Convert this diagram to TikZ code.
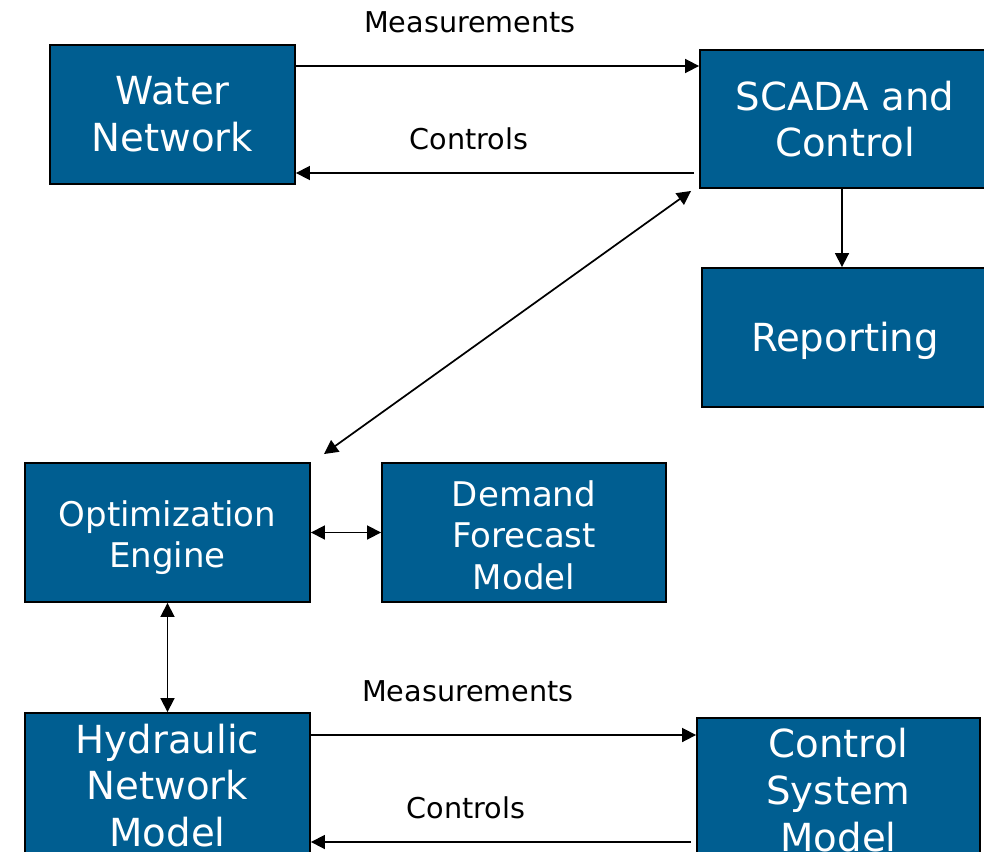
\documentclass[tikz,border=0pt]{standalone}
\usepackage{fontspec}
\setmainfont{DejaVu Sans}
\usetikzlibrary{arrows.meta,calc}
\definecolor{boxblue}{RGB}{0,94,145}
\begin{document}
\begin{tikzpicture}[x=0.75pt,y=-0.75pt,
  box/.style={draw=black,line width=1.4pt,fill=boxblue,text=white,align=center,inner sep=0pt},
  big/.style={font=\fontsize{29}{35}\selectfont},
  mid/.style={font=\fontsize{25.5}{31}\selectfont},
  lbl/.style={font=\fontsize{21.5}{26}\selectfont,text=black,inner sep=0pt},
  tip/.tip={Triangle[length=10.5pt,width=10.5pt]},
  arr/.style={line width=1.3pt,-tip},
  darr/.style={line width=1.3pt,tip-tip}]
\useasboundingbox (0,0) rectangle (984,852);
\clip (0,0) rectangle (984,852);
\fill[white] (0,0) rectangle (984,852);
\node[box,big,minimum width=183.75pt,minimum height=104.25pt] (water) at (172.5,114.5) {Water\\Network};
\node[box,big,minimum width=217.5pt,minimum height=103.5pt] (scada) at (845,119) {SCADA and\\Control};
\node[box,big,minimum width=214.5pt,minimum height=104.25pt] (report) at (845,337.5) {\rule{0pt}{27pt}Reporting};
\node[box,mid,minimum width=213.75pt,minimum height=104.25pt] (opt) at (167.5,532.5) {\rule{0pt}{27pt}Optimization\\Engine};
\node[box,mid,minimum width=213pt,minimum height=104.25pt] (demand) at (524,532.5) {\rule{0pt}{23.2pt}Demand\\Forecast\\Model};
\node[box,big,minimum width=213.75pt,minimum height=108.75pt] (hydro) at (167.5,785.5) {Hydraulic\\Network\\Model};
\node[box,big,minimum width=212.25pt,minimum height=108pt] (ctrl) at (838.5,790) {Control\\System\\Model};
\node[lbl] (m1) at (470,22) {Measurements};
\node[lbl] (c1) at (469,139) {Controls};
\node[lbl] (m2) at (468,691) {Measurements};
\node[lbl] (c2) at (466,808) {Controls};
\draw[arr] (water.east |- 0,66) -- (scada.west |- 0,66);
\draw[arr] ($(scada.west |- 0,173)+(-5,0)$) -- (water.east |- 0,173);
\draw[arr] (scada.south -| 842,0) -- (report.north -| 842,0);
\draw[darr] ($(scada.south west)+(-8,2)$) -- ($(opt.north east)+(13,-8)$);
\draw[darr] (opt.east) -- (demand.west);
\draw[darr] (opt.south) -- (hydro.north);
\draw[arr] (hydro.east |- 0,735) -- (ctrl.west |- 0,735);
\draw[arr] ($(ctrl.west |- 0,842)+(-5,0)$) -- (hydro.east |- 0,842);
\end{tikzpicture}
\end{document}
